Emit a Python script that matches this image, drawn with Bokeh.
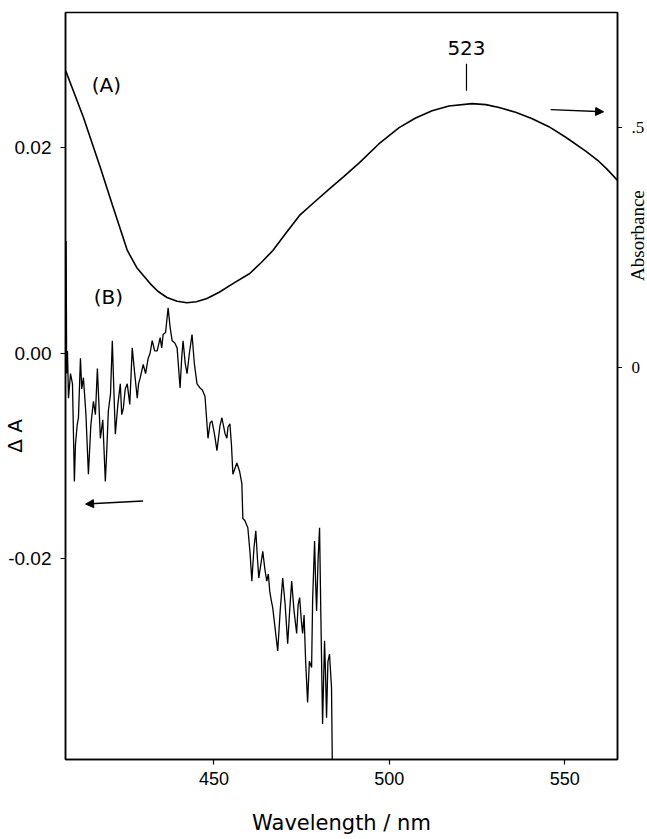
import math
from bokeh.plotting import figure
from bokeh.layouts import row
from bokeh.models import (Range1d, LinearAxis, FixedTicker, NumeralTickFormatter,
                          Label, Arrow, NormalHead)
from bokeh.embed import file_html
from bokeh.resources import INLINE

# ---- data ----
# Curve (A): absorbance spectrum (right axis)
lam_A = [407.7, 410.0, 412.8, 415.0, 417.6, 421.0, 425.3, 428.0, 431.8, 434.0,
         436.6, 439.5, 442.3, 445.0, 448.0, 451.5, 455.4, 460.2, 463.5, 466.8,
         470.5, 474.4, 478.5, 483.0, 487.0, 491.5, 497.0, 502.8, 507.5, 512.2,
         517.0, 523.6, 527.5, 531.3, 536.0, 540.6, 545.5, 550.3, 556.0, 559.7,
         562.0, 565.06]
abs_A = [0.619, 0.575, 0.521, 0.473, 0.417, 0.340, 0.244, 0.208, 0.175, 0.159,
         0.146, 0.138, 0.135, 0.137, 0.144, 0.157, 0.175, 0.196, 0.219, 0.244,
         0.280, 0.317, 0.344, 0.373, 0.398, 0.427, 0.466, 0.500, 0.520, 0.535,
         0.545, 0.550, 0.548, 0.542, 0.532, 0.519, 0.502, 0.480, 0.451, 0.430,
         0.414, 0.390]

# Curve (B): difference spectrum (left axis)
lam_B = [407.7, 407.85, 408.0, 408.24, 408.52, 409.1, 409.66, 410.2, 410.51, 411.0,
         411.36, 411.93, 412.3, 412.78, 413.5, 414.2, 414.9, 415.63, 416.2, 416.76,
         417.2, 417.61, 418.3, 419.03, 419.5, 419.89, 420.5, 421.02, 421.4, 421.88,
         422.6, 423.3, 423.7, 424.15, 424.7, 425.28, 426.0, 426.7, 427.4, 428.13,
         428.5, 428.98, 429.83, 430.5, 431.25, 431.8, 432.39, 433.1, 433.81, 434.66,
         435.1, 435.51, 436.2, 436.93, 437.5, 438.07, 438.8, 439.49, 440.34, 440.8,
         441.19, 441.8, 442.33, 443.0, 443.75, 444.4, 445.17, 446.02, 446.7, 447.44,
         448.3, 448.9, 449.43, 450.2, 450.85, 451.7, 452.27, 453.13, 453.69, 454.0,
         454.55, 455.0, 455.4, 456.53, 457.3, 457.95, 458.24, 458.8, 459.66, 460.3,
         460.8, 461.4, 461.93, 462.4, 462.78, 463.4, 463.92, 464.5, 465.06, 465.5,
         465.91, 466.3, 466.76, 467.5, 468.18, 468.9, 469.6, 470.3, 471.02, 471.6,
         472.16, 472.8, 473.58, 474.0, 474.43, 474.9, 475.28, 475.7, 476.14, 476.7,
         477.2, 477.84, 478.13, 478.69, 479.0, 479.26, 479.7, 480.11, 480.5, 480.97,
         481.53, 481.8, 482.1, 482.5, 482.95, 483.52, 483.81]
dA_B = [-0.0010, 0.0109, -0.0020, 0.0002, -0.0044, -0.0020, -0.0030, -0.0125, -0.0089, -0.0070,
        -0.0063, -0.0005, -0.0035, -0.0024, -0.0060, -0.0118, -0.0070, -0.0047, -0.0060, -0.0015,
        -0.0050, -0.0083, -0.0065, -0.0125, -0.0090, -0.0056, -0.0040, 0.0012, -0.0030, -0.0079,
        -0.0050, -0.0030, -0.0060, -0.0054, -0.0035, -0.0030, -0.0050, 0.0005, -0.0020, -0.0044,
        -0.0030, -0.0024, -0.0011, -0.0020, -0.0005, 0.0000, 0.0012, 0.0002, 0.0002, 0.0015,
        0.0005, 0.0018, 0.0020, 0.0044, 0.0025, 0.0012, 0.0010, 0.0005, -0.0034, -0.0005,
        0.0012, -0.0010, -0.0020, 0.0000, 0.0018, -0.0010, -0.0030, -0.0034, -0.0036, -0.0042,
        -0.0083, -0.0068, -0.0066, -0.0080, -0.0095, -0.0071, -0.0063, -0.0078, -0.0083, -0.0072,
        -0.0069, -0.0090, -0.0118, -0.0107, -0.0115, -0.0127, -0.0161, -0.0163, -0.0170, -0.0195,
        -0.0222, -0.0190, -0.0173, -0.0200, -0.0219, -0.0205, -0.0193, -0.0210, -0.0222, -0.0215,
        -0.0232, -0.0240, -0.0248, -0.0270, -0.0290, -0.0250, -0.0219, -0.0245, -0.0283, -0.0250,
        -0.0222, -0.0250, -0.0273, -0.0245, -0.0238, -0.0260, -0.0273, -0.0255, -0.0300, -0.0340,
        -0.0300, -0.0306, -0.0241, -0.0183, -0.0225, -0.0251, -0.0200, -0.0170, -0.0260, -0.0361,
        -0.0280, -0.0310, -0.0355, -0.0300, -0.0293, -0.0326, -0.0420]

x_ticks = [450, 500, 550]
left_ticks = [-0.02, 0.0, 0.02]
right_ticks = [0.0, 0.5]
right_tick_labels = ["0", ".5"]

peak_label = "523"
peak_lam = 522.0

x_range = (407.67, 565.06)
left_range = (-0.03956, 0.03314)
right_range = (-0.817, 0.740)

SANS = "DejaVu Sans"
TICKF = "Liberation Sans"
SERIF = "Liberation Serif"

p = figure(width=622, height=839, output_backend="svg", toolbar_location=None,
           x_range=Range1d(*x_range), y_range=Range1d(*left_range),
           min_border_left=65, min_border_right=5, min_border_top=12, min_border_bottom=80)
p.extra_y_ranges = {"abs": Range1d(*right_range)}
p.grid.visible = False
p.outline_line_color = "black"
p.outline_line_width = 1.5
p.background_fill_color = "white"
p.border_fill_color = "white"

xa = p.xaxis[0]
xa.ticker = FixedTicker(ticks=x_ticks, minor_ticks=[])
xa.major_tick_in = 0
xa.major_tick_out = 5
xa.axis_line_width = 1.5
xa.major_tick_line_width = 1.2
xa.major_label_text_font = TICKF
xa.major_label_text_font_size = "18px"
xa.major_label_text_color = "black"
xa.major_label_standoff = 7
xa.axis_label = "Wavelength / nm"
xa.axis_label_text_font = SANS
xa.axis_label_text_font_size = "21px"
xa.axis_label_text_font_style = "normal"
xa.axis_label_text_color = "black"
xa.axis_label_standoff = 23

ya = p.yaxis[0]
ya.ticker = FixedTicker(ticks=left_ticks, minor_ticks=[])
ya.formatter = NumeralTickFormatter(format="0.00")
ya.major_tick_in = 0
ya.major_tick_out = 5
ya.axis_line_width = 1.5
ya.major_tick_line_width = 1.2
ya.major_label_text_font = TICKF
ya.major_label_text_font_size = "19px"
ya.major_label_text_color = "black"
ya.major_label_standoff = 9
# label sits below the axis centre in the reference: trailing en-spaces shift it down
ya.axis_label = "\u0394 A" + "\u2002" * 10
ya.axis_label_text_font = SANS
ya.axis_label_text_font_size = "20px"
ya.axis_label_text_font_style = "normal"
ya.axis_label_text_color = "black"
ya.axis_label_standoff = -22

# right (absorbance) axis: tick marks only, its labels live in the strip p2
ra = LinearAxis(y_range_name="abs", ticker=FixedTicker(ticks=[], minor_ticks=right_ticks),
                major_tick_in=0, major_tick_out=5, minor_tick_in=0, minor_tick_out=5,
                minor_tick_line_color="black", minor_tick_line_width=1.2,
                axis_line_width=1.5)
p.add_layout(ra, "right")

# curves
p.line(lam_A, abs_A, y_range_name="abs", line_color="black", line_width=1.6)
p.line(lam_B, dA_B, line_color="black", line_width=1.3)

# annotations
p.add_layout(Label(x=419.3, y=0.0261, text="(A)", text_align="center", text_baseline="middle",
                   text_font=SANS, text_font_size="20px", text_color="black"))
p.add_layout(Label(x=419.9, y=0.00545, text="(B)", text_align="center", text_baseline="middle",
                   text_font=SANS, text_font_size="20px", text_color="black"))
p.add_layout(Label(x=peak_lam, y=0.665, y_range_name="abs", text=peak_label, text_align="center",
                   text_baseline="middle", text_font=SANS, text_font_size="20px",
                   text_color="black"))
p.segment(x0=[peak_lam], y0=[0.633], x1=[peak_lam], y1=[0.577], y_range_name="abs",
          line_color="black", line_width=1.2)

# arrows
p.add_layout(Arrow(end=NormalHead(size=8, fill_color="black", line_color="black"),
                   x_start=429.8, y_start=-0.0144, x_end=413.4, y_end=-0.0147,
                   line_color="black", line_width=1.4))
p.add_layout(Arrow(end=NormalHead(size=8, fill_color="black", line_color="black"),
                   x_start=546.0, y_start=0.5375, x_end=561.1, y_end=0.533,
                   y_range_name="abs", line_color="black", line_width=1.4))

# ---- narrow strip on the right for the absorbance axis texts (frame aligned with p) ----
p2 = figure(width=25, height=839, output_backend="svg", toolbar_location=None,
            x_range=Range1d(622, 647), y_range=Range1d(*right_range),
            x_axis_location=None, y_axis_location=None, min_border=0,
            min_border_top=12, min_border_bottom=80)
p2.grid.visible = False
p2.outline_line_color = None
p2.background_fill_color = "white"
p2.border_fill_color = "white"

for v, t in zip(right_ticks, right_tick_labels):
    p2.add_layout(Label(x=631, y=v, text=t, text_align="left", text_baseline="middle",
                        text_font=SERIF, text_font_size="17px", text_color="black"))
p2.add_layout(Label(x=637, y=0.275, text="Absorbance", angle=math.pi / 2,
                    text_align="center", text_baseline="middle", text_font=SERIF,
                    text_font_size="19px", text_color="black"))

layout = row(p, p2)
open("out.html", "w").write(file_html(layout, INLINE))
